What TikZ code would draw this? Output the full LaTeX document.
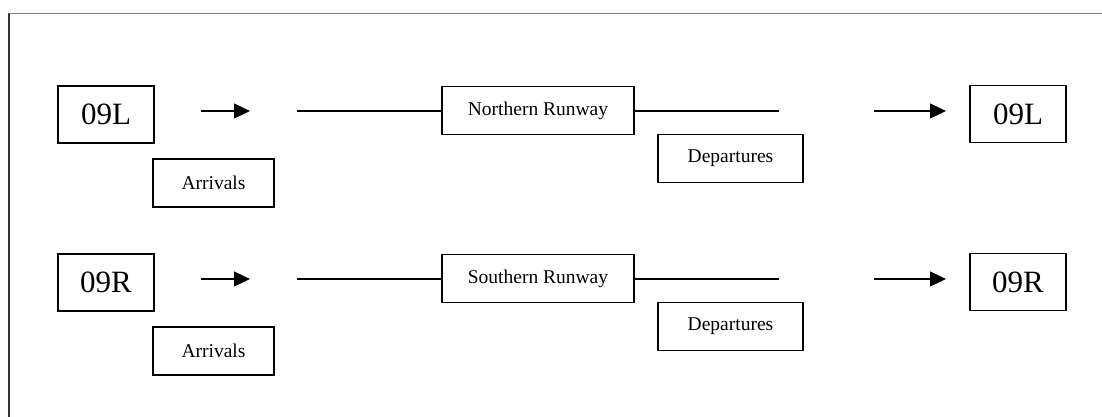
\documentclass[tikz,border=0pt]{standalone}
\usepackage{fontspec}
\setmainfont{Liberation Serif}
\usetikzlibrary{arrows.meta}
\begin{document}
\begin{tikzpicture}[x=1pt,y=-1pt,
  frameline/.style={line width=1.2pt},
  rwybox/.style={draw,line width=1.2pt,minimum width=96pt,minimum height=57pt,inner sep=0pt,font=\fontsize{31}{31}\selectfont},
  namebox/.style={draw,line width=1.2pt,minimum width=192pt,minimum height=48pt,inner sep=0pt,font=\fontsize{19.5}{20}\selectfont},
  flowbox/.style={draw,line width=1.2pt,minimum height=48pt,inner sep=0pt,font=\fontsize{19.5}{20}\selectfont},
  flowarrow/.style={line width=1.3pt,-{Triangle[length=16pt,width=15pt]}},
  runline/.style={line width=1.3pt}]
\useasboundingbox (0,0) rectangle (1102,417);
\coordinate (fA) at (9,417);
\coordinate (fB) at (9,13.5);
\coordinate (fC) at (1102,13.5);
\draw[frameline,draw=black!80] (fA) -- (fB);
\draw[frameline,draw=black!50] (fB) -- (fC);
\foreach \r/\rw/\nm/\dy in {L/Northern/n/0, R/Southern/s/168}{
  \node[rwybox] (\nm in) at (106,114.5+\dy) {09\r};
  \node[rwybox] (\nm out) at (1018,114+\dy) {09\r};
  \node[namebox] (\nm rwy) at (538,110.5+\dy) {\rw\ Runway};
  \node[flowbox,minimum width=121pt] (\nm arr) at (213.5,183+\dy) {Arrivals};
  \node[flowbox,minimum width=145pt] (\nm dep) at (730.5,158.5+\dy) {Departures};
  \coordinate (\nm a1) at (201,111+\dy);
  \coordinate (\nm a2) at (250,111+\dy);
  \coordinate (\nm l1) at (297,111+\dy);
  \coordinate (\nm l2) at (779,111+\dy);
  \coordinate (\nm b1) at (874,111+\dy);
  \coordinate (\nm b2) at (946,111+\dy);
  \draw[flowarrow] (\nm a1) -- (\nm a2);
  \draw[runline] (\nm l1) -- (\nm rwy.west |- \nm l1);
  \draw[runline] (\nm rwy.east |- \nm l2) -- (\nm l2);
  \draw[flowarrow] (\nm b1) -- (\nm b2);
}
\end{tikzpicture}
\end{document}
